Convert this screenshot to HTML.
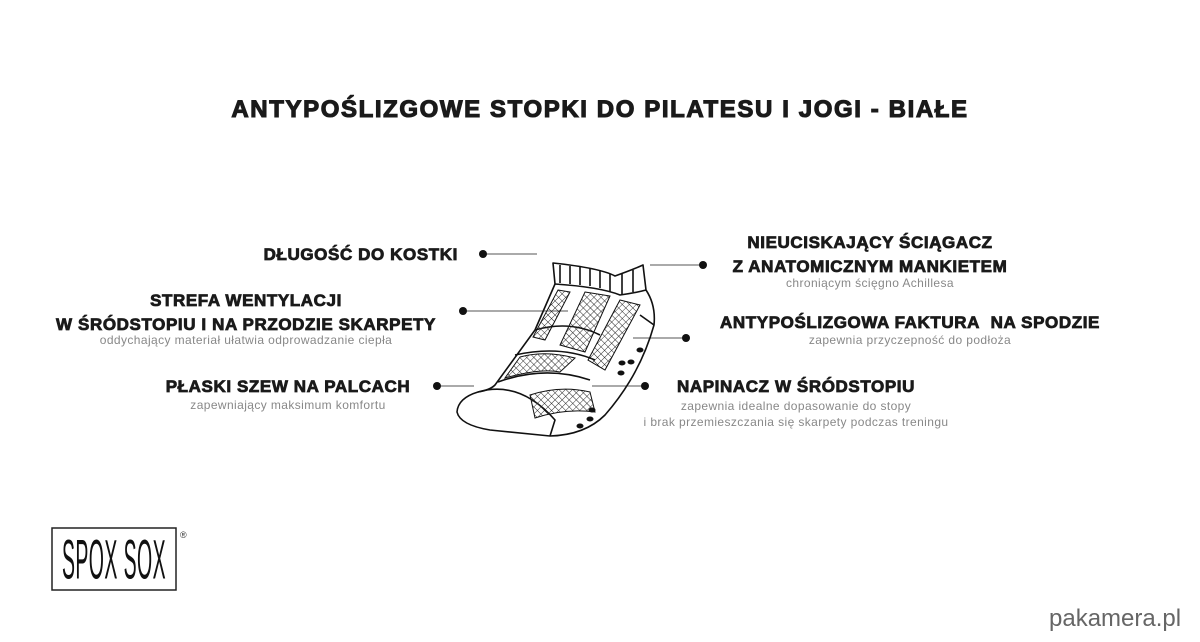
<!DOCTYPE html>
<html><head><meta charset="utf-8"><style>
body{margin:0;width:1200px;height:642px;background:#fff;position:relative;overflow:hidden;font-family:"Liberation Sans",sans-serif;}
.t{position:absolute;font-weight:bold;color:#1a1a1a;-webkit-text-stroke:0.8px #1a1a1a;white-space:nowrap;font-size:17px;letter-spacing:0.6px;line-height:1;}
.s{position:absolute;color:#888;font-size:12px;letter-spacing:0.4px;white-space:nowrap;line-height:1;}
.c{transform:translateX(-50%);text-align:center;}
</style></head><body>
<div class="t c" style="left:600px;top:98px;font-size:24px;-webkit-text-stroke:1.1px #1a1a1a;letter-spacing:1.6px">ANTYPOŚLIZGOWE STOPKI DO PILATESU I JOGI - BIAŁE</div>

<div class="t" style="right:742px;top:246px">DŁUGOŚĆ DO KOSTKI</div>
<div class="t c" style="left:246px;top:292px">STREFA WENTYLACJI</div>
<div class="t c" style="left:246px;top:316px">W ŚRÓDSTOPIU I NA PRZODZIE SKARPETY</div>
<div class="s c" style="left:246px;top:334px">oddychający materiał ułatwia odprowadzanie ciepła</div>
<div class="t c" style="left:288px;top:378px">PŁASKI SZEW NA PALCACH</div>
<div class="s c" style="left:288px;top:399px">zapewniający maksimum komfortu</div>

<div class="t c" style="left:870px;top:234px">NIEUCISKAJĄCY ŚCIĄGACZ</div>
<div class="t c" style="left:870px;top:258px">Z ANATOMICZNYM MANKIETEM</div>
<div class="s c" style="left:870px;top:277px">chroniącym ścięgno Achillesa</div>
<div class="t c" style="left:910px;top:314px">ANTYPOŚLIZGOWA FAKTURA&nbsp; NA SPODZIE</div>
<div class="s c" style="left:910px;top:334px">zapewnia przyczepność do podłoża</div>
<div class="t c" style="left:796px;top:378px">NAPINACZ W ŚRÓDSTOPIU</div>
<div class="s c" style="left:796px;top:400px">zapewnia idealne dopasowanie do stopy</div>
<div class="s c" style="left:796px;top:416px">i brak przemieszczania się skarpety podczas treningu</div>

<svg width="1200" height="642" style="position:absolute;left:0;top:0">
<defs><pattern id="m" width="5" height="5" patternUnits="userSpaceOnUse" patternTransform="rotate(45)"><path d="M0 0H5M0 0V5" stroke="#222" stroke-width="0.9"/></pattern></defs>
<g stroke="#555" stroke-width="1" fill="none">
<line x1="483" y1="254" x2="537" y2="254"/><line x1="463" y1="311" x2="568" y2="311"/><line x1="437" y1="386" x2="474" y2="386"/>
<line x1="650" y1="265" x2="703" y2="265"/><line x1="633" y1="338" x2="686" y2="338"/><line x1="592" y1="386" x2="645" y2="386"/>
</g>
<g fill="#111"><circle cx="483" cy="254" r="4"/><circle cx="463" cy="311" r="4"/><circle cx="437" cy="386" r="4"/><circle cx="703" cy="265" r="4"/><circle cx="686" cy="338" r="4"/><circle cx="645" cy="386" r="4"/></g>
<g stroke="#111" stroke-width="1.6" fill="none" stroke-linejoin="round">
<path d="M553 263 Q600 268 615 276 Q632 270 643 265 L646 290 Q656 305 654 325 Q640 375 605 415 Q585 435 550 436 L490 430 Q460 425 457 412 Q458 398 478 392 Q490 390 495 385 L535 330 L555 284 Z"/>
<path d="M555 284 Q600 287 620 295 Q635 293 646 290"/>
<path d="M560 265 V283 M570 266 V284 M580 267 V285 M590 268 V286 M600 270 V288 M610 274 V292 M622 274 V294 M633 270 V292"/>
<path d="M478 392 Q520 380 555 420 L550 436"/>
<path d="M535 330 Q570 320 600 335 M515 355 Q560 345 595 360 M498 382 Q545 365 590 380"/>
<path d="M640 315 L654 325"/>
</g>
<g fill="url(#m)" stroke="#111" stroke-width="1">
<path d="M558 290 L570 292 L545 340 L533 337 Z"/>
<path d="M585 292 L610 296 L585 352 L560 345 Z"/>
<path d="M620 300 L640 305 L605 370 L588 360 Z"/>
<path d="M520 357 Q545 350 575 358 L560 372 Q540 368 505 378 Z"/>
<path d="M530 395 Q560 385 590 392 L595 412 Q565 408 535 418 Z"/>
</g>
<g fill="#111"><ellipse cx="640" cy="350" rx="3.5" ry="2.5"/><ellipse cx="622" cy="363" rx="3.5" ry="2.5"/><ellipse cx="631" cy="362" rx="3.5" ry="2.5"/><ellipse cx="621" cy="373" rx="3.5" ry="2.5"/><ellipse cx="592" cy="410" rx="3.5" ry="2.5"/><ellipse cx="590" cy="419" rx="3.5" ry="2.5"/><ellipse cx="580" cy="426" rx="3.5" ry="2.5"/></g>
<rect x="52" y="528" width="124" height="62" fill="none" stroke="#222" stroke-width="1.5"/>
<text x="114" y="582" text-anchor="middle" font-family="Liberation Sans,sans-serif" font-size="46" fill="#111" transform="translate(0 -120) scale(1 1.2)" style="letter-spacing:1px" textLength="104" lengthAdjust="spacingAndGlyphs">SPOX SOX</text>
<text x="180" y="538" font-size="9" fill="#333" font-family="Liberation Sans,sans-serif">®</text>
</svg>
<div style="position:absolute;left:1049px;top:605px;font-size:24px;color:#666;font-family:'Liberation Sans',sans-serif;">pakamera.pl</div>
</body></html>
